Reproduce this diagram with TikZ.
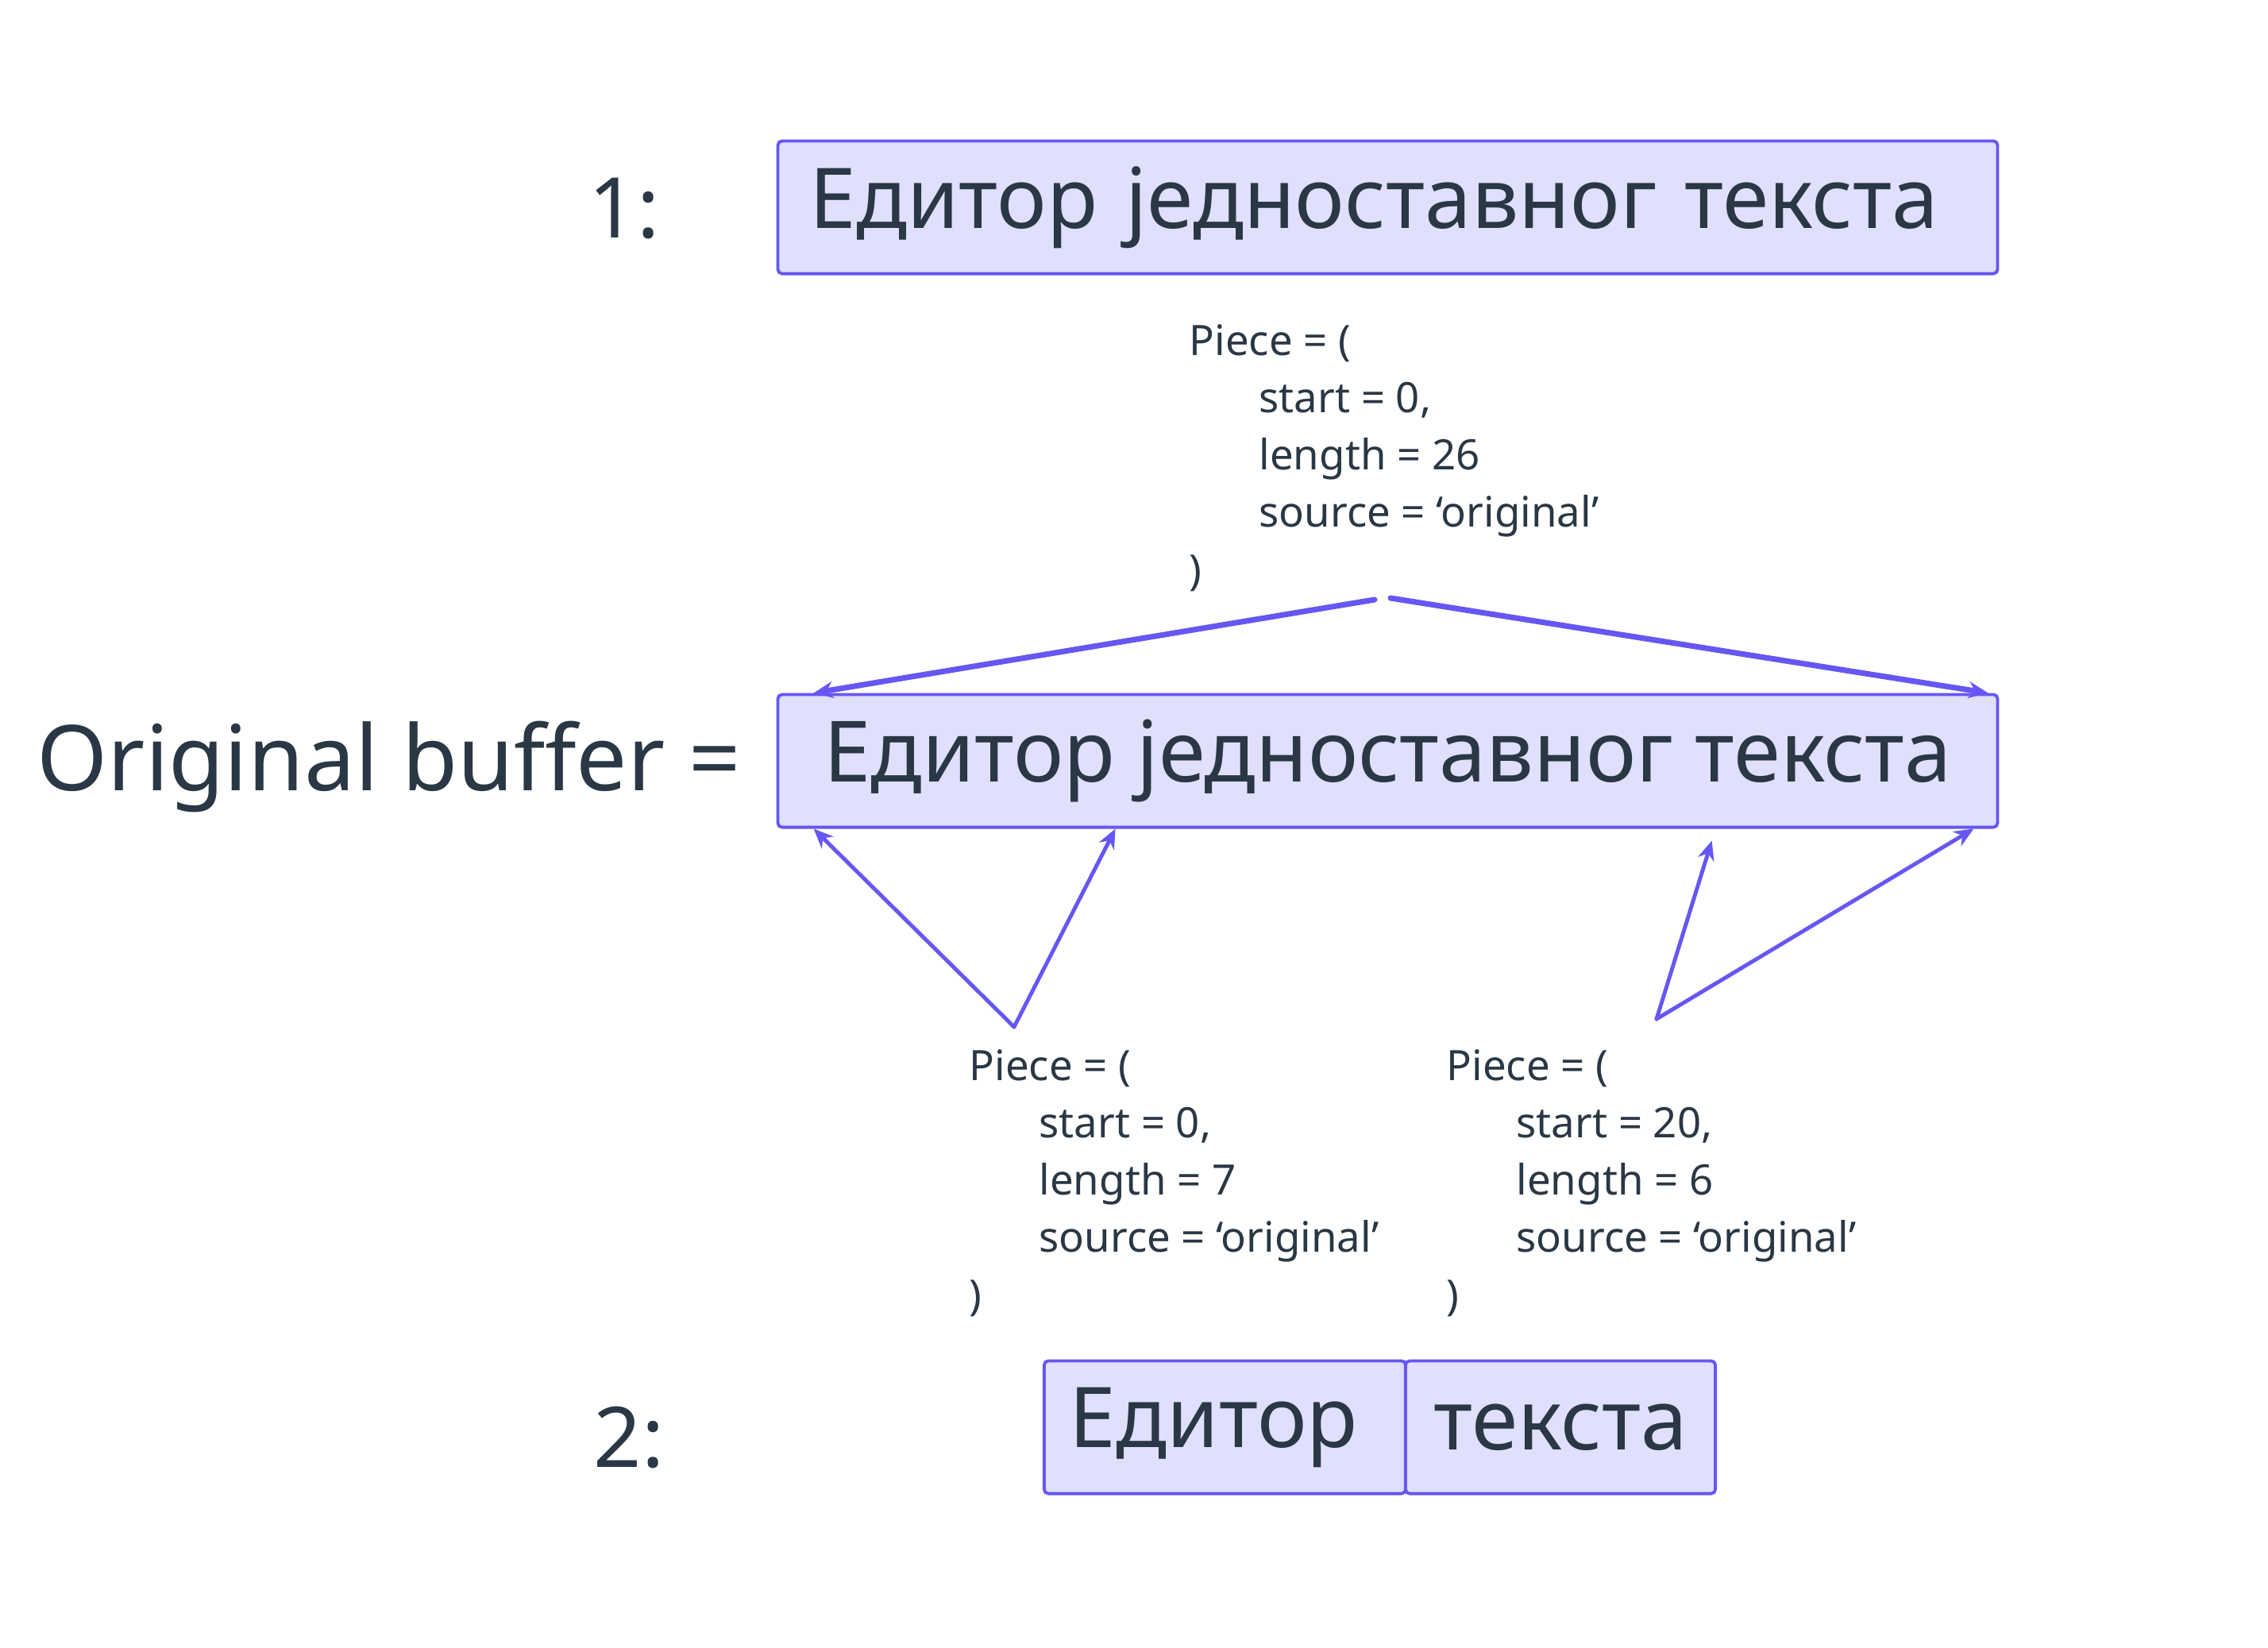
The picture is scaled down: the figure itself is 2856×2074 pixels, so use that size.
\documentclass[tikz,border=0pt]{standalone}
\usepackage{fontspec}
\setmainfont{Noto Sans}
\usetikzlibrary{arrows.meta, positioning, calc}
\definecolor{ink}{HTML}{2A3744}
\definecolor{boxfill}{HTML}{E0DFFC}
\definecolor{boxline}{HTML}{6657F2}

\begin{document}
\begin{tikzpicture}[x=0.01cm, y=-0.01cm, >={Stealth[length=7pt,width=6pt]},
    buf/.style={draw=boxline, fill=boxfill, line width=1.1pt, rounded corners=1.5pt,
      minimum height=1.67cm, inner xsep=0pt, text=ink, font=\fontsize{30}{36}\selectfont},
    piece/.style={align=left, anchor=base west, inner sep=0pt, text=ink,
      font=\fontsize{15}{20.5}\selectfont},
    tag/.style={anchor=base west, inner sep=0pt, text=ink, font=\fontsize{30}{36}\selectfont},
    link/.style={->, draw=boxline, line width=2pt, line cap=round},
    leg/.style={->, draw=boxline, line width=1.4pt, line cap=round}]
    \useasboundingbox (0,0) rectangle (2856,2074);
    % labels on the left
    \node[tag] (one) at (741,299) {1:};
    \node[tag] (two) at (747,1847) {2:};
    \node[tag, font=\fontsize{32.5}{38}\selectfont] (origlabel) at (46,995) {Original buffer =};
    % buffers
    \node[buf, minimum width=15.35cm, text width=15.35cm, align=left] (first) at (1747.5,261)
        {\hspace*{0.4cm}Едитор једноставног текста};
    \node[buf, minimum width=15.35cm, font=\fontsize{30.3}{36}\selectfont] (orig) at (1747.5,958) {Едитор једноставног текста};
    \node[buf, minimum width=4.55cm, text width=4.55cm, align=left] (partA) at (1542.5,1797) {\hspace*{0.32cm}Едитор};
    \node[buf, minimum width=3.90cm] (partB) at (1965,1797) {текста};
    % pieces
    \node[piece] (pieceTop) at (1497,736) {Piece = (\\\hspace*{25pt}start = 0,\\\hspace*{25pt}length = 26\\\hspace*{25pt}source = ‘original’\\)};
    \node[piece] (pieceA) at (1220,1649) {Piece = (\\\hspace*{25pt}start = 0,\\\hspace*{25pt}length = 7\\\hspace*{25pt}source = ‘original’\\)};
    \node[piece] (pieceB) at (1821,1649) {Piece = (\\\hspace*{25pt}start = 20,\\\hspace*{25pt}length = 6\\\hspace*{25pt}source = ‘original’\\)};
    % arrows
    \coordinate (forkL) at (1731,755);
    \coordinate (forkR) at (1751,753);
    \coordinate (legA) at (1277,1293);
    \coordinate (legB) at (2086,1283);
    \draw[link] (forkL) -- ($(orig.north west)+(47,0)$);
    \draw[link] (forkR) -- ($(orig.north east)+(-14,0)$);
    \draw[leg] (legA) -- ($(orig.south west)+(47,0)$);
    \draw[leg] (legA) -- ($(orig.south west)+(427,0)$);
    \draw[leg] (legB) -- ($(orig.south west)+(1178,15)$);
    \draw[leg] (legB) -- ($(orig.south east)+(-32,0)$);
\end{tikzpicture}
\end{document}
